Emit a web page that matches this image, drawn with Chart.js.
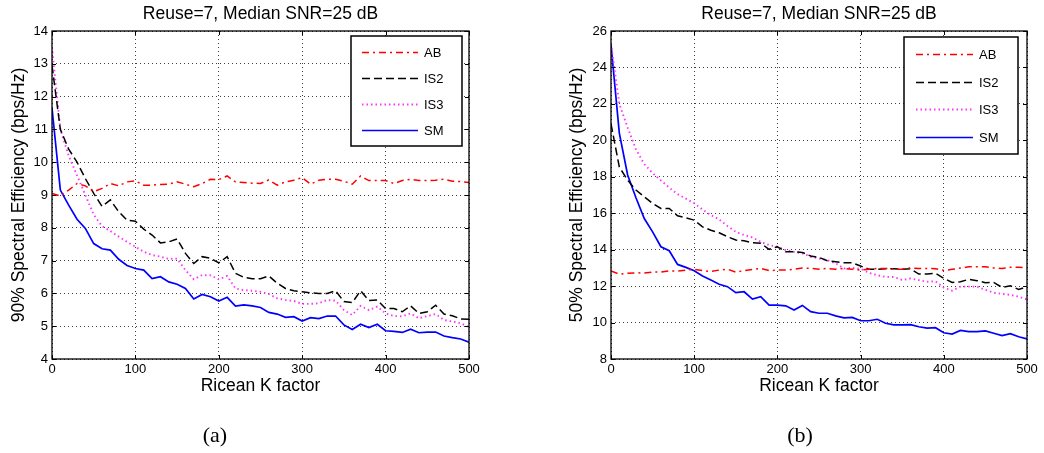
<!DOCTYPE html>
<html>
<head>
<meta charset="utf-8">
<script src="https://cdn.jsdelivr.net/npm/chart.js@4.4.1/dist/chart.umd.min.js"></script>
<style>
  html, body { margin: 0; padding: 0; background: #fff; }
  #wrap { position: relative; width: 1044px; height: 453px; overflow: hidden; }
  #cvA { position: absolute; left: 0; top: 0; }
  #cvB { position: absolute; left: 520px; top: 0; }
  .caption {
    position: absolute; top: 422px; width: 60px; text-align: center;
    font-family: "Liberation Serif", "DejaVu Serif", serif; font-size: 22px; line-height: 26px; color: #000;
  }
</style>
</head>
<body>
<div id="wrap">
  <canvas id="cvA" width="520" height="453"></canvas>
  <canvas id="cvB" width="524" height="453"></canvas>
  <div class="caption" style="left:185px">(a)</div>
  <div class="caption" style="left:770px">(b)</div>
</div>
<script>
// Ricean K factor samples (x axis)
const kFactor = [0, 10, 20, 30, 40, 50, 60, 70, 80, 90, 100,
  110, 120, 130, 140, 150, 160, 170, 180, 190, 200,
  210, 220, 230, 240, 250, 260, 270, 280, 290, 300,
  310, 320, 330, 340, 350, 360, 370, 380, 390, 400,
  410, 420, 430, 440, 450, 460, 470, 480, 490, 500];

const seriesNames = ['AB', 'IS2', 'IS3', 'SM'];

// 90% spectral efficiency (bps/Hz)
const ab90 = [9.05, 8.97, 9.15, 9.35, 9.28, 9.1, 9.2, 9.35, 9.28, 9.4, 9.43,
  9.3, 9.3, 9.32, 9.33, 9.4, 9.33, 9.25, 9.35, 9.48, 9.47,
  9.58, 9.4, 9.38, 9.36, 9.35, 9.46, 9.3, 9.4, 9.45, 9.53,
  9.33, 9.45, 9.48, 9.48, 9.42, 9.33, 9.58, 9.44, 9.44, 9.44,
  9.35, 9.44, 9.48, 9.44, 9.44, 9.45, 9.48, 9.42, 9.41, 9.38];
const is2_90 = [12.95, 11.0, 10.4, 10.0, 9.5, 9.05, 8.65, 8.85, 8.49, 8.23, 8.2,
  7.96, 7.78, 7.54, 7.57, 7.66, 7.22, 6.91, 7.12, 7.07, 6.93,
  7.12, 6.61, 6.49, 6.45, 6.45, 6.53, 6.31, 6.15, 6.08, 6.05,
  6.02, 6.0, 6.0, 6.08, 5.75, 5.72, 6.08, 5.78, 5.8, 5.54,
  5.54, 5.44, 5.62, 5.39, 5.44, 5.64, 5.37, 5.32, 5.22, 5.21];
const is3_90 = [13.5, 11.0, 10.2, 9.6, 9.0, 8.4, 8.05, 7.9, 7.73, 7.57, 7.42,
  7.27, 7.17, 7.12, 7.05, 7.06, 6.71, 6.43, 6.56, 6.55, 6.43,
  6.53, 6.15, 6.1, 6.08, 6.05, 5.98, 5.85, 5.8, 5.77, 5.68,
  5.68, 5.7, 5.8, 5.78, 5.49, 5.34, 5.62, 5.49, 5.6, 5.39,
  5.31, 5.3, 5.39, 5.24, 5.31, 5.37, 5.19, 5.14, 5.09, 4.97];
const sm90 = [11.65, 9.15, 8.69, 8.26, 7.98, 7.52, 7.36, 7.32, 7.04, 6.85, 6.76,
  6.71, 6.45, 6.51, 6.35, 6.28, 6.15, 5.83, 5.97, 5.9, 5.77,
  5.88, 5.61, 5.65, 5.62, 5.57, 5.42, 5.37, 5.27, 5.29, 5.16,
  5.26, 5.23, 5.31, 5.31, 5.04, 4.9, 5.06, 4.96, 5.06, 4.86,
  4.84, 4.81, 4.91, 4.8, 4.82, 4.82, 4.7, 4.65, 4.61, 4.51];

// 50% spectral efficiency (bps/Hz)
const ab50 = [12.83, 12.66, 12.7, 12.73, 12.72, 12.77, 12.77, 12.83, 12.83, 12.88, 12.92,
  12.85, 12.8, 12.88, 12.93, 12.77, 12.85, 12.92, 12.97, 12.85, 12.88,
  12.88, 12.92, 12.99, 12.97, 12.93, 12.97, 12.93, 12.97, 12.93, 12.88,
  12.92, 12.97, 12.97, 12.93, 12.93, 13.0, 12.97, 12.97, 12.95, 12.86,
  12.92, 12.99, 13.06, 13.06, 13.06, 13.0, 12.97, 13.03, 13.04, 12.99];
const is2_50 = [20.9, 18.54, 17.81, 17.27, 16.9, 16.54, 16.26, 16.26, 15.86, 15.75, 15.62,
  15.25, 15.07, 14.93, 14.71, 14.53, 14.49, 14.38, 14.35, 14.02, 14.16,
  13.88, 13.88, 13.85, 13.65, 13.58, 13.39, 13.34, 13.28, 13.28, 13.1,
  12.93, 12.92, 12.95, 12.95, 12.92, 12.95, 12.66, 12.66, 12.7, 12.43,
  12.2, 12.24, 12.37, 12.3, 12.19, 12.2, 11.93, 12.02, 11.82, 11.97];
const is3_50 = [25.3, 22.0, 20.7, 19.5, 18.7, 18.2, 17.8, 17.4, 17.05, 16.8, 16.55,
  16.2, 15.9, 15.66, 15.3, 14.98, 14.8, 14.67, 14.43, 14.25, 14.16,
  13.98, 13.88, 13.8, 13.61, 13.52, 13.43, 13.25, 12.97, 13.0, 12.95,
  12.73, 12.6, 12.51, 12.5, 12.33, 12.42, 12.33, 12.24, 12.27, 11.91,
  11.75, 11.97, 11.97, 11.97, 11.8, 11.64, 11.57, 11.52, 11.42, 11.27];
const sm50 = [25.25, 20.4, 18.1, 16.85, 15.71, 14.98, 14.16, 13.94, 13.19, 13.03, 12.84,
  12.55, 12.33, 12.1, 11.97, 11.64, 11.69, 11.29, 11.42, 10.96, 10.96,
  10.92, 10.69, 10.94, 10.6, 10.51, 10.51, 10.37, 10.26, 10.28, 10.1,
  10.1, 10.18, 9.96, 9.87, 9.87, 9.89, 9.77, 9.7, 9.72, 9.44,
  9.37, 9.57, 9.5, 9.5, 9.54, 9.41, 9.28, 9.39, 9.22, 9.1];

const FONT = '"Liberation Sans", Arial, Helvetica, sans-serif';

// line styles per series: AB dash-dot, IS2 dashed, IS3 dotted, SM solid
const lineStyles = [
  { color: '#ff0000', dash: [7, 4, 2, 4], width: 1.5 },
  { color: '#000000', dash: [8, 4], width: 1.5 },
  { color: '#ff33ff', dash: [1.5, 3], width: 1.9 },
  { color: '#0000ff', dash: [], width: 1.7 }
];

function makeDatasets(seriesList) {
  return seriesList.map((vals, i) => ({
    label: seriesNames[i],
    data: kFactor.map((k, j) => ({ x: k, y: vals[j] })),
    borderColor: lineStyles[i].color,
    borderDash: lineStyles[i].dash,
    borderWidth: lineStyles[i].width,
    pointRadius: 0,
    tension: 0,
    fill: false
  }));
}

// axes box with inward ticks, plus a boxed legend in the upper right
const boxedAxes = {
  id: 'boxedAxes',
  afterDatasetsDraw(chart, args, opts) {
    const { ctx, chartArea: a, scales } = chart;
    const tl = 4;
    ctx.save();
    ctx.setLineDash([]);
    ctx.strokeStyle = '#000';
    ctx.lineWidth = 1;
    ctx.beginPath();
    scales.x.ticks.forEach(t => {
      const px = Math.round(scales.x.getPixelForValue(t.value)) + 0.5;
      ctx.moveTo(px, a.bottom); ctx.lineTo(px, a.bottom - tl);
      ctx.moveTo(px, a.top); ctx.lineTo(px, a.top + tl);
    });
    scales.y.ticks.forEach(t => {
      const py = Math.round(scales.y.getPixelForValue(t.value)) + 0.5;
      ctx.moveTo(a.left, py); ctx.lineTo(a.left + tl, py);
      ctx.moveTo(a.right, py); ctx.lineTo(a.right - tl, py);
    });
    ctx.stroke();
    ctx.lineWidth = 1.3;
    ctx.strokeRect(a.left, a.top, a.right - a.left, a.bottom - a.top);

    // legend
    const L = opts.legend;
    const bx = a.right - L.right - L.width;
    const by = a.top + L.top;
    ctx.fillStyle = '#fff';
    ctx.fillRect(bx, by, L.width, L.height);
    ctx.lineWidth = 1.5;
    ctx.strokeRect(bx, by, L.width, L.height);
    ctx.font = '13px ' + FONT;
    ctx.textBaseline = 'middle';
    ctx.textAlign = 'left';
    chart.data.datasets.forEach((ds, i) => {
      const y = Math.round(by + L.firstRow + i * L.rowGap) + 0.5;
      ctx.beginPath();
      ctx.setLineDash(ds.borderDash);
      ctx.strokeStyle = ds.borderColor;
      ctx.lineWidth = ds.borderWidth;
      ctx.moveTo(bx + L.lineFrom, y);
      ctx.lineTo(bx + L.lineTo, y);
      ctx.stroke();
      ctx.setLineDash([]);
      ctx.fillStyle = '#000';
      ctx.fillText(ds.label, bx + L.textAt, y + 1);
    });
    ctx.restore();
  }
};

function makeChart(canvasId, seriesList, yMin, yMax, yStep, yTitle, pad, yWidth, legend) {
  const gridColor = 'rgba(0,0,0,0.75)';
  return new Chart(document.getElementById(canvasId), {
    type: 'line',
    data: { datasets: makeDatasets(seriesList) },
    options: {
      responsive: false,
      animation: false,
      layout: { padding: pad },
      plugins: {
        legend: { display: false },
        tooltip: { enabled: false },
        title: {
          display: true,
          text: 'Reuse=7, Median SNR=25 dB',
          color: '#000',
          fullSize: false,
          font: { family: FONT, size: 17.5, weight: 'normal' },
          padding: { top: 4, bottom: 6 }
        },
        boxedAxes: { legend: legend }
      },
      scales: {
        x: {
          type: 'linear',
          min: 0,
          max: 500,
          ticks: { stepSize: 100, color: '#000', padding: 3, maxRotation: 0, font: { family: FONT, size: 13 } },
          grid: { color: gridColor, lineWidth: 1, drawTicks: false, borderDash: [1, 3] },
          border: { display: false, dash: [1, 3] },
          title: {
            display: true, text: 'Ricean K factor', color: '#000',
            font: { family: FONT, size: 17.5 }, padding: { top: 0, bottom: 0 }
          },
          afterFit: s => { s.height = 38; }
        },
        y: {
          min: yMin,
          max: yMax,
          ticks: { stepSize: yStep, color: '#000', padding: 4, font: { family: FONT, size: 13 } },
          grid: { color: gridColor, lineWidth: 1, drawTicks: false, borderDash: [1, 3] },
          border: { display: false, dash: [1, 3] },
          title: {
            display: true, text: yTitle, color: '#000',
            font: { family: FONT, size: 17.5 }, padding: { top: 9, bottom: 0 }
          },
          afterFit: s => { s.width = yWidth; }
        }
      }
    },
    plugins: [boxedAxes]
  });
}

makeChart('cvA', [ab90, is2_90, is3_90, sm90], 4, 14, 1,
  '90% Spectral Efficiency (bps/Hz)',
  { left: 0, right: 51, top: 0, bottom: 56 }, 52,
  { right: 7, top: 5, width: 111, height: 110, firstRow: 16, rowGap: 26, lineFrom: 11, lineTo: 67, textAt: 73 });

makeChart('cvB', [ab50, is2_50, is3_50, sm50], 8, 26, 2,
  '50% Spectral Efficiency (bps/Hz)',
  { left: 38, right: 17, top: 0, bottom: 56 }, 53,
  { right: 9, top: 6, width: 114, height: 117, firstRow: 17, rowGap: 27.5, lineFrom: 12, lineTo: 69, textAt: 75 });
</script>
</body>
</html>
